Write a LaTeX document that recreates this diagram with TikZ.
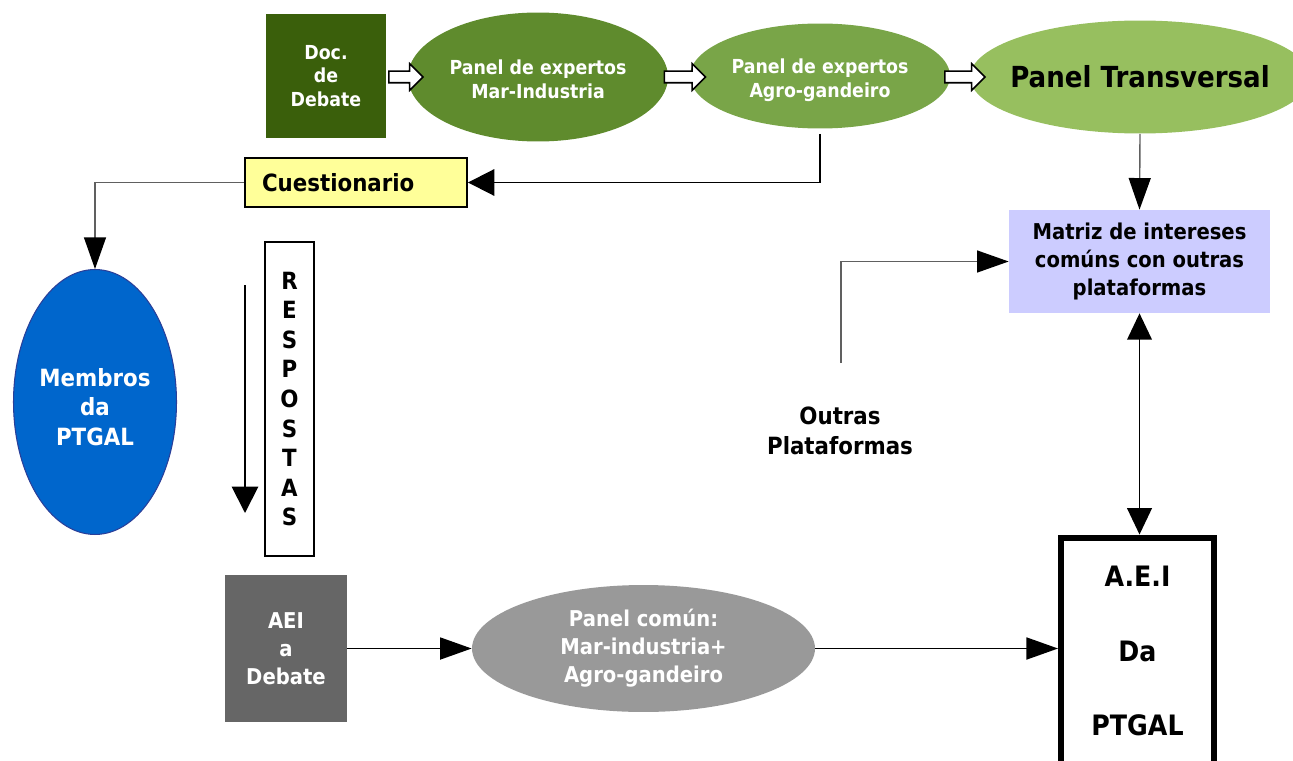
\documentclass[tikz,border=0pt]{standalone}
\usepackage{fontspec}
\setmainfont{DejaVu Sans}[FakeStretch=0.9]
\usetikzlibrary{shapes.geometric,shapes.arrows,arrows.meta}
\definecolor{docgreen}{HTML}{3A5F0B}
\definecolor{margreen}{HTML}{5F8B2D}
\definecolor{agrogreen}{HTML}{79A548}
\definecolor{transgreen}{HTML}{97BF5F}
\definecolor{cueyellow}{HTML}{FFFF99}
\definecolor{memblue}{HTML}{0066CC}
\definecolor{memedge}{HTML}{2A3F99}
\definecolor{matlilac}{HTML}{CCCCFF}
\definecolor{aeigray}{HTML}{666666}
\definecolor{pcogray}{HTML}{999999}
\definecolor{linegray}{HTML}{606060}
\begin{document}
\begin{tikzpicture}[x=0.02cm, y=-0.02cm,
  every node/.style={align=center, inner sep=0pt},
  fontS/.style={font=\fontsize{11pt}{13.5pt}\selectfont\bfseries},
  fontM/.style={font=\fontsize{12.4pt}{16pt}\selectfont\bfseries},
  fontL/.style={font=\fontsize{13.5pt}{16.8pt}\selectfont\bfseries},
  panel/.style={ellipse, text=white, fontS, minimum width=5.2cm},
  blockarrow/.style={single arrow, draw=black, line width=0.9pt, fill=white, inner xsep=0pt, inner ysep=0.1cm, single arrow head extend=0.15cm},
  link/.style={draw=black, line width=1.1pt},
  glink/.style={draw=linegray, line width=0.8pt},
  longtri/.style={-{Triangle[length=18pt,width=12.5pt,color=black]}},
  widetri/.style={-{Triangle[length=15pt,width=15pt,color=black]}},
  dbltri/.style={{Triangle[length=15pt,width=14pt]}-{Triangle[length=15pt,width=14pt]}}
]
\useasboundingbox (0,0) rectangle (1293,760);
% top row
\node[fill=docgreen, text=white, fontS, minimum width=2.4cm, minimum height=2.48cm] (doc) at (326,76) {Doc.\\de\\Debate};
\node[panel, fill=margreen, minimum height=2.58cm, text height=24.2pt] (pmi) at (538,77) {Panel de expertos\\Mar-Industria};
\node[panel, fill=agrogreen, minimum height=2.1cm, text height=26.4pt] (pag) at (820,76) {Panel de expertos\\Agro-gandeiro};
\node[ellipse, fill=transgreen, minimum width=6.8cm, minimum height=2.26cm,
  label={[font=\fontsize{16.5pt}{20pt}\selectfont\bfseries]center:Panel Transversal}] (ptr) at (1140,77) {};
\node[blockarrow, minimum height=0.68cm] (ba1) at (403,77) {};
\node[blockarrow, minimum height=0.82cm] (ba2) at (682,77) {};
\node[blockarrow, minimum height=0.8cm] (ba3) at (962,77) {};
% left column
\node[draw=black, line width=1.1pt, fill=cueyellow, fontL, text width=3.76cm, align=left, inner xsep=0.34cm, minimum height=0.98cm] (cue) at (356,182.5) {Cuestionario};
\node[ellipse, draw=memedge, line width=0.6pt, fill=memblue, text=white, fontL, text height=49.5pt, minimum width=3.26cm, minimum height=5.3cm] (mem) at (95,402) {Membros\\da\\PTGAL};
\node[draw=black, line width=1.1pt, fontL, minimum width=0.98cm, minimum height=6.28cm] (resp) at (289.5,399) {R\\E\\S\\P\\O\\S\\T\\A\\S};
\coordinate (r1) at (245,285);
\coordinate (r2) at (245,513);
% bottom row
\node[fill=aeigray, text=white, fontM, minimum width=2.44cm, minimum height=2.94cm] (aei) at (286,648.5) {AEI\\a\\Debate};
\node[ellipse, fill=pcogray, text=white, fontM, minimum width=6.86cm, minimum height=2.54cm] (pco) at (643.5,648.5) {Panel común:\\Mar-industria+\\Agro-gandeiro};
\node[draw=black, line width=3.4pt, font=\fontsize{16pt}{42.5pt}\selectfont\bfseries, text depth=0.2cm, minimum width=3.06cm, minimum height=4.74cm] (fin) at (1137.5,656) {A.E.I\\Da\\PTGAL};
% right column
\node[fill=matlilac, fontM, minimum width=5.22cm, minimum height=2.06cm] (mat) at (1139.5,261.5) {Matriz de intereses\\comúns con outras\\plataformas};
\node[fontL] (out) at (840,431) {Outras\\Plataformas};
\coordinate (osrc) at (841,363);
% connectors
\draw[link, widetri] ([yshift=-0.1cm]pag.south) |- (cue.east);
\draw[glink, longtri] (cue.west) -| (mem.north);
\draw[link, widetri] (r1) -- (r2);
\draw[glink, longtri] (ptr.south) -- (mat.north);
\draw[glink, longtri] (osrc) |- (mat.west);
\draw[link, dbltri] (mat.south) -- (mat.south |- fin.north);
\draw[link, longtri] (aei.east) -- (pco.west);
\draw[link, longtri] (pco.east) -- (pco.east -| fin.west);
\end{tikzpicture}
\end{document}
